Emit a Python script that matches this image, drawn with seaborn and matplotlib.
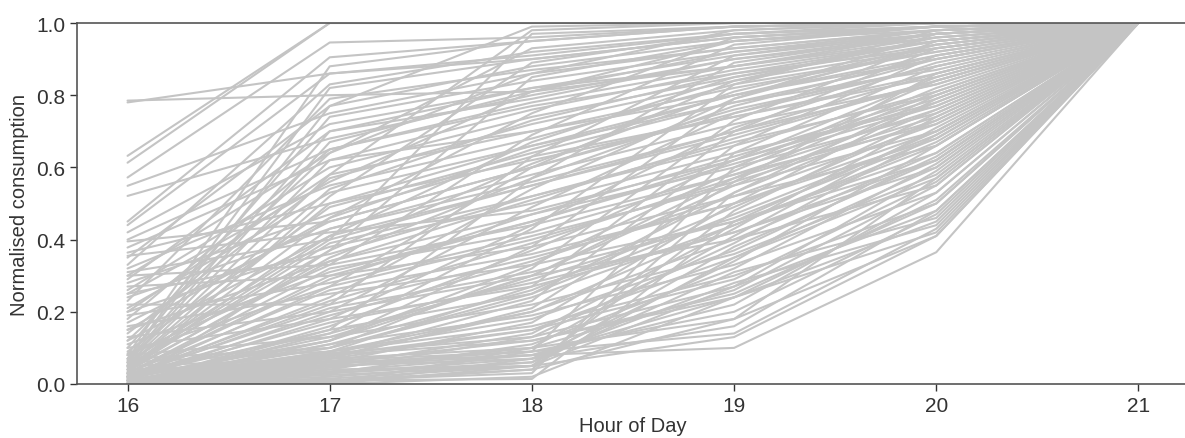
import matplotlib
matplotlib.use("Agg")
import matplotlib.pyplot as plt
import seaborn as sns
import pandas as pd

hours = [16, 17, 18, 19, 20, 21]

# each row: normalised cumulative consumption at hours 16..21
high_start = [
    [0.785, 0.80, 0.81, 0.88, 0.97, 1.0],
    [0.78, 0.86, 0.91, 0.97, 0.99, 1.0],
    [0.632, 1.0, 1.0, 1.0, 1.0, 1.0],
    [0.613, 1.0, 1.0, 1.0, 1.0, 1.0],
    [0.572, 0.946, 0.96, 0.99, 1.0, 1.0],
    [0.549, 0.75, 0.86, 0.93, 0.98, 1.0],
    [0.521, 0.68, 0.80, 0.90, 0.96, 1.0],
]

mid_start = [
    [0.45, 0.905, 0.95, 0.99, 1.0, 1.0],
    [0.44, 0.86, 0.90, 0.96, 0.99, 1.0],
    [0.42, 0.72, 0.82, 0.88, 0.95, 1.0],
    [0.40, 0.65, 0.77, 0.86, 0.93, 1.0],
    [0.395, 0.45, 0.60, 0.75, 0.88, 1.0],
    [0.378, 0.62, 0.70, 0.80, 0.90, 1.0],
    [0.364, 0.50, 0.66, 0.78, 0.87, 1.0],
    [0.355, 0.42, 0.48, 0.62, 0.78, 1.0],
    [0.35, 0.77, 0.99, 1.0, 1.0, 1.0],
    [0.33, 0.83, 0.92, 0.97, 0.99, 1.0],
    [0.32, 0.55, 0.68, 0.83, 0.92, 1.0],
    [0.31, 0.40, 0.55, 0.70, 0.86, 1.0],
    [0.30, 0.33, 0.44, 0.58, 0.72, 1.0],
    [0.30, 0.64, 0.86, 0.98, 1.0, 1.0],
    [0.29, 0.70, 0.79, 0.90, 0.97, 1.0],
    [0.28, 0.47, 0.63, 0.74, 0.85, 1.0],
    [0.27, 0.30, 0.38, 0.52, 0.66, 1.0],
    [0.26, 0.60, 0.74, 0.85, 0.94, 1.0],
    [0.25, 0.36, 0.52, 0.67, 0.80, 1.0],
    [0.25, 0.56, 0.81, 0.95, 0.98, 1.0],
    [0.24, 0.43, 0.58, 0.72, 0.83, 1.0],
]

lowmid_start = [
    [0.23, 0.79, 0.87, 0.93, 0.98, 1.0],
    [0.22, 0.22, 0.35, 0.50, 0.70, 1.0],
    [0.21, 0.53, 0.66, 0.80, 0.91, 1.0],
    [0.20, 0.38, 0.50, 0.64, 0.77, 1.0],
    [0.20, 0.58, 0.98, 1.0, 1.0, 1.0],
    [0.19, 0.28, 0.41, 0.55, 0.70, 1.0],
    [0.18, 0.65, 0.78, 0.88, 0.96, 1.0],
    [0.17, 0.45, 0.60, 0.76, 0.88, 1.0],
    [0.16, 0.25, 0.33, 0.45, 0.62, 1.0],
    [0.15, 0.34, 0.47, 0.60, 0.75, 1.0],
    [0.15, 0.46, 0.75, 0.96, 0.99, 1.0],
    [0.14, 0.57, 0.72, 0.84, 0.93, 1.0],
    [0.13, 0.20, 0.30, 0.40, 0.55, 1.0],
    [0.12, 0.41, 0.55, 0.69, 0.84, 1.0],
    [0.12, 0.64, 0.93, 0.98, 1.0, 1.0],
    [0.11, 0.31, 0.45, 0.62, 0.79, 1.0],
    [0.10, 0.18, 0.27, 0.42, 0.60, 1.0],
    [0.10, 0.74, 0.84, 0.92, 0.97, 1.0],
    [0.09, 0.49, 0.64, 0.78, 0.90, 1.0],
    [0.085, 0.27, 0.40, 0.56, 0.73, 1.0],
]

low_start_fast = [
    [0.08, 0.88, 0.95, 0.99, 1.0, 1.0],
    [0.08, 0.33, 0.69, 0.94, 0.99, 1.0],
    [0.07, 0.82, 0.90, 0.96, 0.99, 1.0],
    [0.07, 0.77, 0.88, 0.95, 0.99, 1.0],
    [0.065, 0.70, 0.82, 0.91, 0.97, 1.0],
    [0.06, 0.67, 0.81, 0.92, 0.98, 1.0],
    [0.06, 0.62, 0.76, 0.87, 0.95, 1.0],
    [0.06, 0.41, 0.67, 0.85, 0.95, 1.0],
    [0.055, 0.58, 0.70, 0.82, 0.92, 1.0],
    [0.05, 0.54, 0.73, 0.86, 0.95, 1.0],
    [0.05, 0.50, 0.62, 0.74, 0.86, 1.0],
    [0.05, 0.40, 0.97, 0.99, 1.0, 1.0],
    [0.05, 0.37, 0.61, 0.81, 0.94, 1.0],
    [0.045, 0.46, 0.65, 0.80, 0.93, 1.0],
    [0.04, 0.43, 0.56, 0.70, 0.83, 1.0],
    [0.04, 0.39, 0.52, 0.66, 0.81, 1.0],
    [0.04, 0.34, 0.51, 0.68, 0.84, 1.0],
    [0.035, 0.35, 0.57, 0.77, 0.91, 1.0],
    [0.03, 0.32, 0.42, 0.58, 0.76, 1.0],
    [0.03, 0.29, 0.47, 0.63, 0.80, 1.0],
    [0.03, 0.30, 0.45, 0.61, 0.77, 1.0],
    [0.03, 0.26, 0.36, 0.50, 0.68, 1.0],
    [0.03, 0.52, 0.89, 0.97, 1.0, 1.0],
    [0.025, 0.23, 0.39, 0.57, 0.74, 1.0],
    [0.025, 0.21, 0.31, 0.45, 0.64, 1.0],
    [0.02, 0.19, 0.34, 0.52, 0.72, 1.0],
    [0.02, 0.17, 0.28, 0.42, 0.62, 1.0],
    [0.02, 0.15, 0.25, 0.47, 0.69, 1.0],
    [0.02, 0.24, 0.54, 0.79, 0.94, 1.0],
    [0.02, 0.27, 0.60, 0.84, 0.96, 1.0],
    [0.02, 0.22, 0.63, 0.91, 0.98, 1.0],
    [0.01, 0.18, 0.44, 0.71, 0.89, 1.0],
    [0.01, 0.20, 0.49, 0.75, 0.90, 1.0],
    [0.0, 0.37, 0.85, 0.95, 0.99, 1.0],
    [0.0, 0.15, 0.57, 0.89, 0.97, 1.0],
    [0.0, 0.16, 0.37, 0.62, 0.85, 1.0],
    [0.0, 0.14, 0.29, 0.46, 0.68, 1.0],
    [0.0, 0.12, 0.33, 0.59, 0.82, 1.0],
    [0.0, 0.11, 0.26, 0.49, 0.73, 1.0],
]

low_start_slow = [
    [0.015, 0.13, 0.22, 0.36, 0.58, 1.0],
    [0.015, 0.12, 0.30, 0.55, 0.78, 1.0],
    [0.01, 0.11, 0.19, 0.33, 0.53, 1.0],
    [0.01, 0.10, 0.24, 0.44, 0.67, 1.0],
    [0.01, 0.09, 0.16, 0.30, 0.50, 1.0],
    [0.01, 0.085, 0.13, 0.27, 0.48, 1.0],
    [0.01, 0.08, 0.23, 0.66, 0.91, 1.0],
    [0.01, 0.09, 0.27, 0.70, 0.93, 1.0],
    [0.005, 0.08, 0.12, 0.24, 0.45, 1.0],
    [0.005, 0.075, 0.20, 0.40, 0.64, 1.0],
    [0.005, 0.07, 0.10, 0.18, 0.41, 1.0],
    [0.0, 0.065, 0.09, 0.14, 0.43, 1.0],
    [0.0, 0.06, 0.08, 0.10, 0.365, 1.0],
    [0.0, 0.055, 0.09, 0.20, 0.47, 1.0],
    [0.0, 0.05, 0.07, 0.16, 0.48, 1.0],
    [0.0, 0.05, 0.08, 0.22, 0.53, 1.0],
    [0.0, 0.045, 0.10, 0.26, 0.55, 1.0],
    [0.0, 0.04, 0.05, 0.13, 0.41, 1.0],
    [0.0, 0.035, 0.08, 0.24, 0.42, 1.0],
    [0.0, 0.03, 0.07, 0.28, 0.44, 1.0],
    [0.0, 0.03, 0.06, 0.31, 0.46, 1.0],
    [0.0, 0.025, 0.05, 0.35, 0.60, 1.0],
    [0.0, 0.01, 0.014, 0.45, 0.70, 1.0],
    [0.0, 0.02, 0.06, 0.38, 0.62, 1.0],
    [0.0, 0.015, 0.05, 0.48, 0.75, 1.0],
    [0.0, 0.01, 0.04, 0.53, 0.80, 1.0],
    [0.0, 0.01, 0.03, 0.60, 0.84, 1.0],
    [0.0, 0.005, 0.04, 0.18, 0.57, 1.0],
    [0.0, 0.005, 0.09, 0.64, 0.88, 1.0],
    [0.0, 0.0, 0.07, 0.34, 0.66, 1.0],
    [0.0, 0.0, 0.05, 0.27, 0.59, 1.0],
    [0.0, 0.0, 0.10, 0.41, 0.71, 1.0],
    [0.0, 0.0, 0.02, 0.24, 0.51, 1.0],
    [0.0, 0.08, 0.15, 0.29, 0.56, 1.0],
    [0.0, 0.09, 0.18, 0.37, 0.63, 1.0],
    [0.0, 0.03, 0.11, 0.32, 0.61, 1.0],
    [0.0, 0.04, 0.13, 0.39, 0.69, 1.0],
    [0.0, 0.05, 0.14, 0.43, 0.74, 1.0],
    [0.0, 0.06, 0.17, 0.50, 0.79, 1.0],
    [0.0, 0.07, 0.21, 0.56, 0.86, 1.0],
    [0.02, 0.10, 0.32, 0.73, 0.95, 1.0],
    [0.02, 0.12, 0.38, 0.79, 0.97, 1.0],
    [0.03, 0.14, 0.43, 0.83, 0.98, 1.0],
    [0.04, 0.06, 0.12, 0.25, 0.50, 1.0],
    [0.05, 0.07, 0.15, 0.35, 0.57, 1.0],
    [0.06, 0.09, 0.20, 0.44, 0.66, 1.0],
    [0.07, 0.10, 0.25, 0.53, 0.76, 1.0],
    [0.08, 0.13, 0.30, 0.57, 0.81, 1.0],
]

x_label = "Hour of Day"
y_label = "Normalised consumption"

# ---- build long-form table ----
records = []
uid = 0
for group in (high_start, mid_start, lowmid_start, low_start_fast, low_start_slow):
    for row in group:
        for h, v in zip(hours, row):
            records.append({"id": uid, "hour": h, "value": v})
        uid += 1
df = pd.DataFrame(records)

sns.set_theme(style="ticks")
plt.rcParams["font.family"] = ["Liberation Sans", "DejaVu Sans"]

fig = plt.figure(figsize=(11.85, 4.39), dpi=100)
ax = fig.add_axes([77 / 1185, 54 / 439, (1189 - 77) / 1185, 361 / 439])

sns.lineplot(data=df, x="hour", y="value", units="id", estimator=None,
             color="#c4c4c4", linewidth=1.5, ax=ax, legend=False)

ax.set_xlim(15.75, 21.25)
ax.set_ylim(0, 1.0)
ax.set_xticks(hours)
yt = [0.0, 0.2, 0.4, 0.6, 0.8, 1.0]
ax.set_yticks(yt)
ax.set_yticklabels([f"{t:.1f}" for t in yt])
ax.set_xlabel(x_label, fontsize=14.5, color="#333333", labelpad=1)
ax.set_ylabel(y_label, fontsize=14.5, color="#333333", labelpad=5)
ax.tick_params(axis="both", labelsize=15, colors="#333333", length=5, width=1, pad=3.5)
for side in ("left", "bottom", "top"):
    ax.spines[side].set_color("#555555")
    ax.spines[side].set_linewidth(1.2)
ax.spines["right"].set_visible(False)

fig.savefig("out.png", dpi=100)
